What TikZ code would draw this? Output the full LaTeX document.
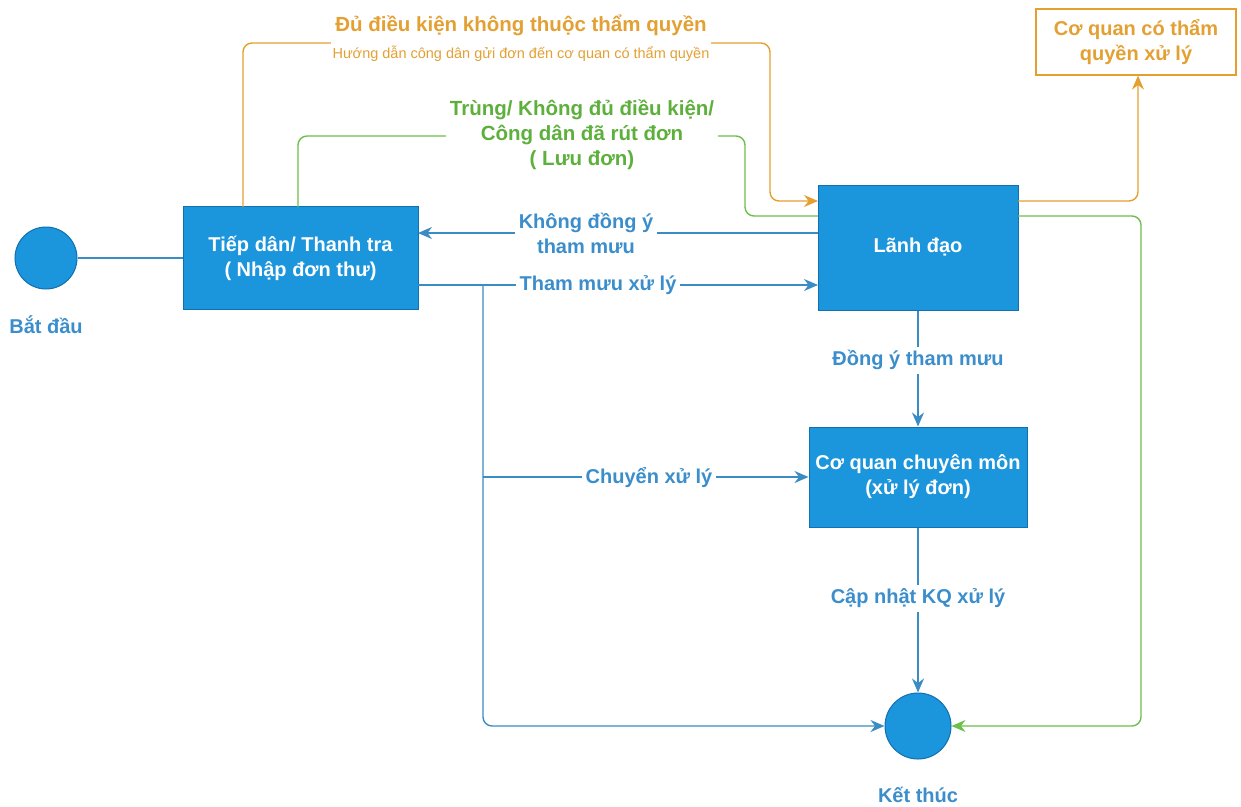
\documentclass[tikz,border=0pt]{standalone}
\usepackage{fontspec}
\setmainfont{Liberation Sans}
\usetikzlibrary{arrows.meta}
\definecolor{boxfill}{HTML}{1B95DC}
\definecolor{boxdraw}{HTML}{1070B0}
\definecolor{linkblue}{HTML}{3A8CC4}
\definecolor{textblue}{HTML}{3B8ECB}
\definecolor{orng}{HTML}{E3A02F}
\definecolor{orngtext}{HTML}{E3A033}
\definecolor{grn}{HTML}{6BBF4A}
\definecolor{grntext}{HTML}{5DB03C}
\tikzset{
  big/.style={font=\fontsize{20}{25}\selectfont\bfseries},
  box/.style={draw=boxdraw, fill=boxfill, line width=1pt, text=white, big, align=center},
  circ/.style={circle, draw=boxdraw, fill=boxfill, line width=1pt, inner sep=0pt},
  lbl/.style={text=textblue, big, align=center},
  elbl/.style={fill=white, text=textblue, big, align=center, inner sep=4pt},
  tip/.style={-{Stealth[length=14pt,width=12pt]}},
  bline/.style={draw=linkblue, line width=1.4pt},
  barrow/.style={bline, tip},
  oline/.style={draw=orng, line width=1.4pt, rounded corners=9pt},
  gline/.style={draw=grn, line width=1.4pt, rounded corners=9pt},
}
\begin{document}
\begin{tikzpicture}[x=1pt,y=-1pt]
\path[use as bounding box] (0,0) rectangle (1241,806);

% nodes
\node[circ, minimum size=62pt] (start) at (46,258) {};
\node[lbl] (startlbl) at (46,325) {Bắt đầu};
\node[box, minimum width=235pt, minimum height=103pt] (tiep) at (300.5,258) {Tiếp dân/ Thanh tra\\( Nhập đơn thư)};
\node[box, minimum width=200pt, minimum height=125pt] (lanh) at (918,247.5) {Lãnh đạo};
\node[box, minimum width=218pt, minimum height=100pt] (cqcm) at (918,477) {Cơ quan chuyên môn\\(xử lý đơn)};
\node[circ, minimum size=66pt] (ket) at (918,726) {};
\node[lbl] (ketlbl) at (918,795) {Kết thúc};
\node[draw=orng, line width=1.2pt, fill=white, text=orngtext, big, align=center, minimum width=200pt, minimum height=66pt] (cqtq) at (1136,42) {Cơ quan có thẩm\\quyền xử lý};

% helper coordinates
\coordinate (o1) at (243,207);
\coordinate (o2) at (243,43);
\coordinate (o3) at (770,43);
\coordinate (o4) at (770,201);
\coordinate (o5) at (818,201);
\coordinate (g1) at (298,207);
\coordinate (g2) at (298,136);
\coordinate (g3) at (745,136);
\coordinate (g4) at (745,216);
\coordinate (g5) at (818,216);
\coordinate (oo1) at (1018,201);
\coordinate (oo2) at (1138,201);
\coordinate (go1) at (1018,216);
\coordinate (go2) at (1141,216);
\coordinate (go3) at (1141,726);
\coordinate (ka) at (818,233);
\coordinate (kb) at (418,233);
\coordinate (ta) at (418,285);
\coordinate (tb) at (818,285);
\coordinate (br) at (483,285);
\coordinate (bb) at (483,726);
\coordinate (bc) at (483,477);

% orange route
\draw[oline, tip] (o1) -- (o2) -- (o3) -- (o4) -- (o5);
\node[fill=white, text=orngtext, align=center, inner sep=2pt] (olbl) at (521,38)
  {{\fontsize{20.5}{24}\selectfont\bfseries Đủ điều kiện không thuộc thẩm quyền}\\[9pt]{\fontsize{14.5}{17}\selectfont Hướng dẫn công dân gửi đơn đến cơ quan có thẩm quyền}};
% green route
\draw[gline] (g1) -- (g2) -- (g3) -- (g4) -- (g5);
\node[fill=white, text=grntext, font=\fontsize{20.5}{25}\selectfont\bfseries, align=center, inner sep=4pt] (glbl) at (582,135)
  {Trùng/ Không đủ điều kiện/\\Công dân đã rút đơn\\( Lưu đơn)};

% outgoing from Lanh dao
\draw[oline, tip] (oo1) -- (oo2) -- (oo2 |- cqtq.south);
\draw[gline, tip] (go1) -- (go2) -- (go3) -- (ket.east);

% blue connectors
\draw[bline] (start.east) -- (tiep.west);
\draw[barrow] (ka) -- node[elbl, pos=0.58] (kdlbl) {Không đồng ý\\tham mưu} (kb);
\draw[barrow] (ta) -- node[elbl, pos=0.45] (tmlbl) {Tham mưu xử lý} (tb);
\draw[barrow, rounded corners=9pt] (br) -- (bb) -- (ket.west);
\draw[barrow] (bc) -- node[elbl, pos=0.51] (cxlbl) {Chuyển xử lý} (cqcm.west);
\draw[barrow] (lanh.south) -- node[elbl, pos=0.43] (dylbl) {Đồng ý tham mưu} (cqcm.north);
\draw[barrow] (cqcm.south) -- node[elbl, pos=0.43] (cnlbl) {Cập nhật KQ xử lý} (ket.north);
\end{tikzpicture}
\end{document}
